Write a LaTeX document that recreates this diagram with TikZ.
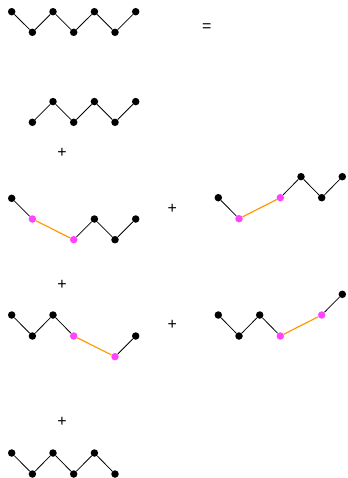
\documentclass[tikz,border=0pt]{standalone}
\usepackage{fontspec}
\setmainfont{Liberation Sans}
\definecolor{mag}{HTML}{FF44FF}
\definecolor{org}{HTML}{FF9900}
\begin{document}
\begin{tikzpicture}[x=1bp,y=-1bp,
  dot/.style={circle,fill=black,inner sep=0pt,minimum size=7.5bp},
  mdot/.style={circle,fill=mag,inner sep=0pt,minimum size=7.5bp},
  edge/.style={draw=black,line width=0.8bp},
  oedge/.style={draw=org,line width=1.2bp},
  sym/.style={font=\fontsize{16}{16}\selectfont,inner sep=0pt}]
\useasboundingbox (0,0) rectangle (347,478);
% row 1
\node[dot] (a1) at (11.7,11.7) {};
\node[dot] (a2) at (32.4,32.3) {};
\node[dot] (a3) at (53.0,11.7) {};
\node[dot] (a4) at (73.7,32.3) {};
\node[dot] (a5) at (94.4,11.7) {};
\node[dot] (a6) at (115.0,32.3) {};
\node[dot] (a7) at (135.7,11.7) {};
\draw[edge] (a1)--(a2)--(a3)--(a4)--(a5)--(a6)--(a7);
\node[sym] (eq) at (206.7,28) {=};
% row 2
\node[dot] (b2) at (32.4,122.3) {};
\node[dot] (b3) at (53.0,101.6) {};
\node[dot] (b4) at (73.7,122.3) {};
\node[dot] (b5) at (94.4,101.6) {};
\node[dot] (b6) at (115.0,122.3) {};
\node[dot] (b7) at (135.7,101.6) {};
\draw[edge] (b2)--(b3)--(b4)--(b5)--(b6)--(b7);
\node[sym] (p1) at (62,153) {+};
% row 3 left
\node[dot] (c1) at (11.7,198.3) {};
\node[mdot] (c2) at (32.4,219) {};
\node[mdot] (c3) at (73.7,239.7) {};
\node[dot] (c4) at (94.4,219) {};
\node[dot] (c5) at (115.0,239.7) {};
\node[dot] (c6) at (135.7,219) {};
\draw[edge] (c1)--(c2);
\draw[oedge] (c2)--(c3);
\draw[edge] (c3)--(c4)--(c5)--(c6);
\node[sym] (p2) at (172.3,209) {+};
% row 3 right
\node[dot] (d1) at (218.3,197.7) {};
\node[mdot] (d2) at (239.0,218.7) {};
\node[mdot] (d3) at (280.3,197.7) {};
\node[dot] (d4) at (301.0,176.7) {};
\node[dot] (d5) at (321.7,197.7) {};
\node[dot] (d6) at (342.3,176.7) {};
\draw[edge] (d1)--(d2);
\draw[oedge] (d2)--(d3);
\draw[edge] (d3)--(d4)--(d5)--(d6);
\node[sym] (p3) at (62,284.5) {+};
% row 4 left
\node[dot] (e1) at (11.7,315) {};
\node[dot] (e2) at (32.4,336) {};
\node[dot] (e3) at (53.0,315) {};
\node[mdot] (e4) at (73.7,336) {};
\node[mdot] (e5) at (115.0,356.7) {};
\node[dot] (e6) at (135.7,336) {};
\draw[edge] (e1)--(e2)--(e3)--(e4);
\draw[oedge] (e4)--(e5);
\draw[edge] (e5)--(e6);
\node[sym] (p4) at (172.3,325) {+};
% row 4 right
\node[dot] (f1) at (218.3,315) {};
\node[dot] (f2) at (239.0,336) {};
\node[dot] (f3) at (259.7,315) {};
\node[mdot] (f4) at (280.3,336) {};
\node[mdot] (f5) at (321.7,315) {};
\node[dot] (f6) at (342.3,294.3) {};
\draw[edge] (f1)--(f2)--(f3)--(f4);
\draw[oedge] (f4)--(f5);
\draw[edge] (f5)--(f6);
\node[sym] (p5) at (62,422.3) {+};
% row 5
\node[dot] (g1) at (11.7,453) {};
\node[dot] (g2) at (32.4,474) {};
\node[dot] (g3) at (53.0,453) {};
\node[dot] (g4) at (73.7,474) {};
\node[dot] (g5) at (94.4,453) {};
\node[dot] (g6) at (115.0,474) {};
\draw[edge] (g1)--(g2)--(g3)--(g4)--(g5)--(g6);
\end{tikzpicture}
\end{document}
